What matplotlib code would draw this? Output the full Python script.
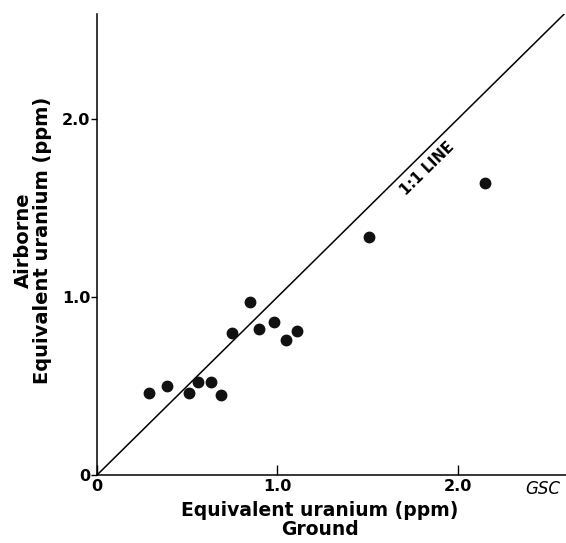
import matplotlib.pyplot as plt

# Ground vs airborne equivalent uranium (ppm)
ground = [0.29, 0.39, 0.51, 0.56, 0.63, 0.69, 0.75, 0.85, 0.90, 0.98,
          1.05, 1.11, 1.51, 2.15]
airborne = [0.46, 0.50, 0.46, 0.52, 0.52, 0.45, 0.80, 0.97, 0.82, 0.86,
            0.76, 0.81, 1.34, 1.64]

tick_values = [0, 1.0, 2.0]
tick_labels = ['0', '1.0', '2.0']

plt.rcParams['font.family'] = ['DejaVu Sans']
plt.rcParams['font.weight'] = 'bold'

fig = plt.figure(figsize=(5.66, 5.43), dpi=100)
ax = fig.add_axes([0.1714, 0.1252, 0.8286, 0.849])
ax.set_xlim(0, 2.6)
ax.set_ylim(0, 2.59)

# 1:1 line
ax.plot([0, 2.6], [0, 2.6], color='black', lw=1.1)
ax.text(1.83, 1.72, '1:1 LINE', rotation=44.5, fontsize=10.5, fontweight='bold',
        ha='center', va='center')

# Data points
ax.plot(ground, airborne, 'o', color='#111111', markersize=7.5)

# Axes styling
ax.spines['top'].set_visible(False)
ax.spines['right'].set_visible(False)
ax.spines['left'].set_linewidth(1.1)
ax.spines['bottom'].set_linewidth(1.1)
ax.set_xticks(tick_values)
ax.set_xticklabels(tick_labels, fontsize=11.5, fontweight='bold')
ax.set_yticks(tick_values)
ax.set_yticklabels(tick_labels, fontsize=11.5, fontweight='bold')
ax.tick_params(axis='x', direction='in', length=7, width=1, pad=3)
ax.tick_params(axis='y', direction='out', length=4, width=1, pad=1)

# Axis labels
fig.text(320 / 566, 1 - 520 / 543, 'Equivalent uranium (ppm)\nGround',
         ha='center', va='center', fontsize=13.5, fontweight='bold',
         linespacing=1.05, multialignment='center')
fig.text(33 / 566, 1 - 240 / 543, 'Airborne\nEquivalent uranium (ppm)',
         ha='center', va='center', rotation=90, fontsize=14,
         fontweight='bold', linespacing=1.05, multialignment='center')
fig.text(543 / 566, 1 - 489 / 543, 'GSC', ha='center', va='center',
         fontsize=12, fontstyle='italic', fontweight='normal')

fig.savefig('out.png', dpi=100)
